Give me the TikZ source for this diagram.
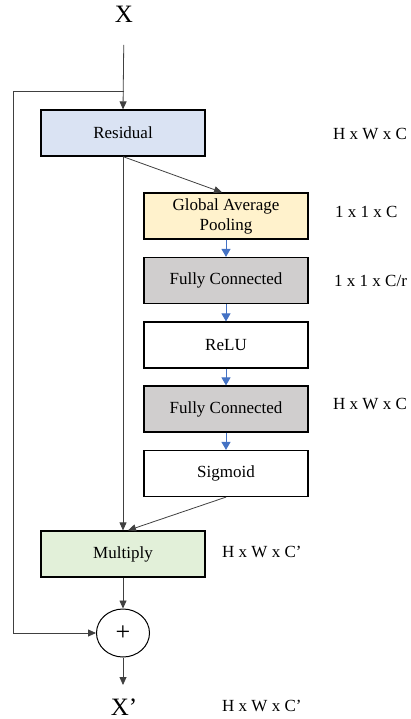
\documentclass[tikz,border=0pt]{standalone}
\usepackage{fontspec}
\setmainfont{Liberation Serif}
\usetikzlibrary{arrows.meta,shapes.geometric}
\definecolor{resblue}{HTML}{DAE3F3}
\definecolor{gapyellow}{HTML}{FFF2CC}
\definecolor{fcgray}{HTML}{D0CECE}
\definecolor{mulgreen}{HTML}{E2F0D9}
\definecolor{flowblue}{HTML}{4472C4}
\definecolor{wire}{HTML}{404040}
\begin{document}
\begin{tikzpicture}[x=1pt,y=-1pt,
  blockbox/.style={draw=black, line width=1.2pt, minimum width=164pt,
    minimum height=46pt, inner sep=0pt, align=center,
    font=\fontsize{17}{20}\selectfont},
  dimlabel/.style={anchor=west, inner sep=0pt, font=\fontsize{17}{20}\selectfont},
  biglabel/.style={inner sep=0pt, anchor=base, font=\fontsize{25}{28}\selectfont},
  wirearrow/.style={draw=wire, line width=0.8pt,
    -{Triangle[length=8pt,width=7pt]}},
  bluearrow/.style={draw=flowblue, line width=1pt,
    -{Triangle[length=8pt,width=9pt]}},
]
\useasboundingbox (0,0) rectangle (410,719);

% inputs and outputs
\node[biglabel] (xin) at (124,23) {X};
\node[biglabel] (xout) at (124,715) {X’};

% main branch blocks
\node[blockbox, fill=resblue] (res) at (123,133) {Residual};
\node[blockbox, fill=mulgreen] (mul) at (123,554) {Multiply};
\node[draw=black, line width=1pt, ellipse, minimum width=53pt,
  minimum height=48pt, inner sep=0pt,
  font=\fontsize{26}{28}\selectfont] (plus) at (123,633) {+};

% squeeze-and-excitation branch
\node[blockbox, fill=gapyellow] (gap) at (226,216) {Global Average\\Pooling};
\node[blockbox, fill=fcgray] (fc1) at (226,280.5) {Fully Connected};
\node[blockbox, fill=white] (relu) at (226,345) {ReLU};
\node[blockbox, fill=fcgray] (fc2) at (226,409) {Fully Connected};
\node[blockbox, fill=white] (sig) at (226,473.5) {Sigmoid};

% tensor shapes
\node[dimlabel] (d1) at (333,134) {H x W x C};
\node[dimlabel] (d2) at (335,212) {1 x 1 x C};
\node[dimlabel] (d3) at (334,281) {1 x 1 x C/r};
\node[dimlabel] (d4) at (333,404) {H x W x C};
\node[dimlabel] (d5) at (222,552) {H x W x C’};
\node[dimlabel] (d6) at (222,706) {H x W x C’};

% skip connection corners
\coordinate (split) at (124,91);
\coordinate (cornerTop) at (13,91);
\coordinate (cornerBot) at (13,633);
\coordinate (outEnd) at (123,685);

% connectors
\draw[wirearrow, shorten <=22pt] (xin.base) -- (res.north);
\draw[wirearrow] (split) -- (cornerTop) -- (cornerBot) -- (plus.west);
\draw[wirearrow] (res.south) -- ([xshift=-4pt]gap.north);
\draw[wirearrow] (res.south) -- (mul.north);
\draw[wirearrow] (sig.south) -- ([xshift=5pt]mul.north);
\draw[wirearrow] (mul.south) -- (plus.north);
\draw[wirearrow] (plus.south) -- (outEnd);

\draw[bluearrow] (gap.south) -- (fc1.north);
\draw[bluearrow] (fc1.south) -- (relu.north);
\draw[bluearrow] (relu.south) -- (fc2.north);
\draw[bluearrow] (fc2.south) -- (sig.north);
\end{tikzpicture}
\end{document}
